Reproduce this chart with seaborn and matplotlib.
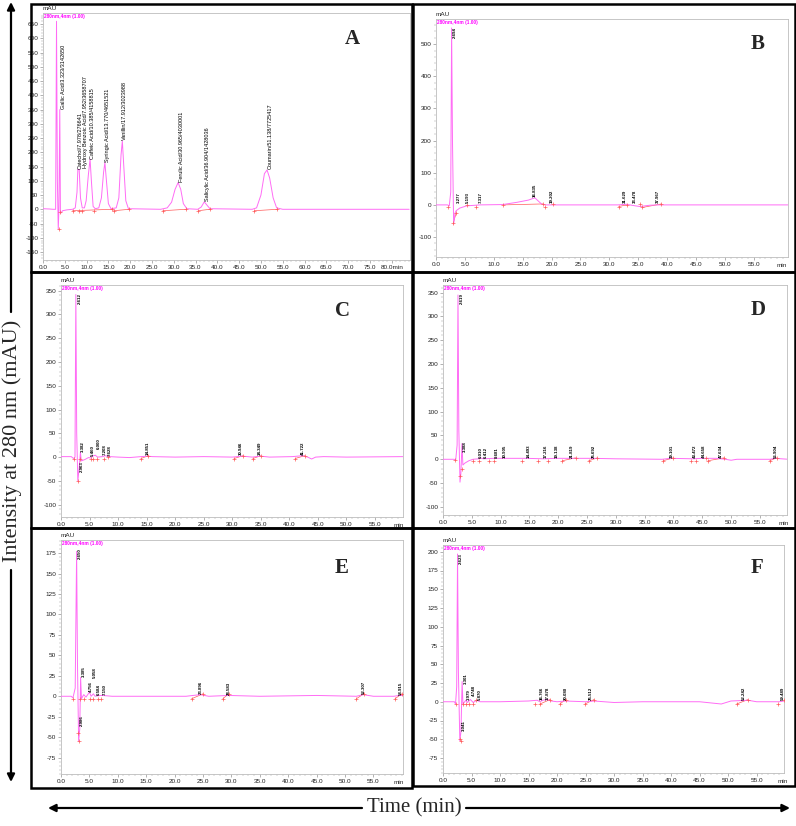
import matplotlib
matplotlib.use("Agg")
import matplotlib.pyplot as plt
from matplotlib.patches import Rectangle, FancyArrowPatch
from matplotlib.ticker import MultipleLocator
import seaborn as sns

W, H = 796, 826

# ---------------- panel A (standards) ----------------
a_t = [0, 1.5, 2.3, 2.9, 3.1, 3.3, 3.5, 3.65, 3.85, 4.0, 4.5, 5.5, 6.8, 7.4, 7.8, 8.0, 8.3, 8.6, 9.0,
       9.5, 9.9, 10.4, 10.8, 11.1, 11.5, 12.0, 12.8, 13.4, 13.9, 14.2, 14.5, 15.0, 15.6, 16.8, 17.4,
       17.9, 18.2, 18.5, 19.0, 19.6, 27.0, 28.5, 29.5, 30.3, 31.0, 31.6, 32.2, 33.0, 35.5, 36.3,
       37.0, 37.6, 38.3, 48.0, 49.0, 50.0, 50.8, 51.4, 52.0, 52.8, 53.6, 55.0, 84.0]
a_y = [2, 1, 0, 0, 660, 100, -70, 0, 350, -15, -5, -2, 0, 5, 60, 140, 140, 40, 5,
       5, 30, 120, 176, 100, 10, 2, 5, 40, 130, 164, 110, 20, 2, 5, 40,
       190, 240, 160, 30, 2, 0, 5, 25, 70, 94, 70, 20, 2, 0, 8,
       26, 15, 2, 0, 5, 50, 125, 138, 110, 40, 5, 0, 0]
a_mk_t = [3.7, 3.85, 6.8, 8.2, 8.9, 11.6, 15.9, 16.2, 19.8, 27.5, 32.8, 35.6, 38.3, 48.5, 53.8]
a_mk_y = [-70, -10, -5, -5, -5, -5, 0, -5, 0, -5, 0, -5, 0, -5, 0]
a_bl = [(6.8, -5, 15.9, 0), (16.2, -5, 19.8, 0), (27.5, -5, 32.8, 0), (35.6, -5, 38.3, 0), (48.5, -5, 53.8, 0)]
a_lab_t = [4.6, 8.6, 9.8, 11.4, 14.7, 18.8, 31.8, 37.8, 52.1]
a_lab_y = [352, 142, 145, 178, 166, 242, 96, 28, 140]
a_lab = ["Gallic Acid/3.323/3142650", "Catechol/7.978/276641", "Hydroxy Benzoic Acid/7.952/3658707",
         "Caffeic Acid/10.385/4158815", "Syringic Acid/13.770/4651521", "Vanillin/17.912/3023988",
         "Ferulic Acid/30.965/4030001", "Salicylic Acid/36.904/1428036", "Coumarin/51.138/7725417"]

# ---------------- panel B ----------------
b_t = [0, 2.0, 2.3, 2.55, 2.7, 2.85, 3.05, 3.3, 3.5, 4.1, 5.3, 7.6, 11.5, 14.0, 16.0, 17.1, 18.3,
       19.0, 31.5, 32.9, 34.5, 35.3, 37.0, 38.5, 61]
b_y = [0, 0, -3, 40, 550, 200, -60, -25, -18, -10, -3, 0, 1, 8, 15, 22, 2,
       0, 0, 2, -3, -5, -1, 0, 0]
b_mk_t = [2.1, 3.0, 3.5, 5.3, 7.0, 11.6, 18.5, 18.8, 20.3, 31.6, 33.0, 35.3, 35.7, 39.0]
b_mk_y = [-5, -55, -25, 0, -5, 0, 3, -5, 3, -5, 0, 3, -8, 3]
b_bl = [(3.0, -55, 3.5, -25), (11.6, 0, 18.5, 3), (31.6, -5, 33.0, 0), (35.7, -8, 39.0, 3)]
b_lab_t = [3.3, 3.9, 5.6, 7.7, 17.1, 20.0, 32.6, 34.4, 38.4]
b_lab_y = [578, 5, 5, 5, 26, 5, 5, 5, 5]
b_lab = ["2.694", "3.277", "5.193", "7.317", "16.835", "19.202", "31.629", "33.478", "37.967"]

# ---------------- panel C ----------------
c_t = [0, 1.8, 2.2, 2.45, 2.6, 2.75, 2.95, 3.2, 3.4, 3.55, 4.2, 4.8, 5.3, 5.5, 6.0, 6.4, 7.3, 7.7,
       8.5, 10, 12, 14, 15.2, 16, 20, 25, 30, 31.8, 33.5, 35, 36.5, 40.5, 42.3, 43.2, 43.9, 44.6, 46, 50, 60]
c_y = [1, 1, -3, 0, 342, 50, -50, -20, 10, -8, -5, -1, -2, 2, 4, 0, 1, 3,
       1, 0, -1, 1, 2, 1, 0, 1, 0, 2, 0, 2, 0, 1, 3, 0, -4, 0, 1, 0, 1]
c_mk_t = [2.2, 3.0, 3.3, 5.3, 5.6, 6.3, 7.5, 8.2, 14.0, 15.3, 30.3, 31.9, 33.6, 35.0, 41.0, 42.7]
c_mk_y = [-3, -50, -5, -5, -3, -3, -3, 0, -3, 3, -3, 3, -3, 3, -3, 3]
c_bl = [(14.0, -3, 15.3, 3), (30.3, -3, 31.9, 3), (33.6, -3, 35.0, 3), (41.0, -3, 42.7, 3)]
c_lab_t = [3.3, 3.6, 3.85, 5.5, 6.6, 7.75, 8.6, 15.2, 31.5, 34.9, 42.3]
c_lab_y = [362, -8, 11, 2, 18, 4, 3, 4, 4, 4, 5]
c_lab = ["2.612", "2.963", "3.382", "5.460", "6.000", "7.208", "7.628", "14.851", "30.946", "34.349", "41.722"]

# ---------------- panel D ----------------
d_t = [0, 1.9, 2.2, 2.45, 2.6, 2.75, 2.95, 3.1, 3.3, 3.45, 3.8, 4.5, 5.2, 6.2, 6.4, 7.0, 8.8, 10.5,
       14.5, 17.5, 19.5, 22, 26, 30, 38, 39.5, 43.5, 44.8, 47.5, 49, 50, 51, 56.8, 57.5, 60]
d_y = [0, 0, -2, 30, 345, 60, -48, -30, 33, -12, -8, -3, 0, 1, 3, 1, 2, 2,
       2, 1, 2, 2, 2, 1, 0, 2, 1, 2, 2, 0, -2, 0, 0, 2, 0]
d_mk_t = [2.1, 3.0, 3.3, 5.2, 6.2, 8.0, 8.9, 13.7, 16.5, 18.2, 20.7, 23.0, 25.3, 26.8, 38.2, 40.0,
          43.0, 43.9, 45.7, 46.0, 48.8, 56.7, 57.9]
d_mk_y = [-2, -35, -20, -3, -3, -3, -3, -3, -3, -3, -3, 3, -3, 3, -3, 3,
          -3, -3, 3, -3, 3, -3, 3]
d_bl = [(20.7, -3, 23.0, 3), (25.3, -3, 26.8, 3), (38.2, -3, 40.0, 3), (46.0, -3, 48.8, 3), (56.7, -3, 57.9, 3)]
d_lab_t = [3.2, 3.75, 6.5, 7.5, 9.3, 10.7, 14.9, 17.8, 19.7, 22.4, 26.1, 39.8, 43.7, 45.2, 48.2, 57.7]
d_lab_y = [366, 16, 2, 2, 2, 2, 3, 2, 2, 3, 3, 3, 2, 2, 3, 2]
d_lab = ["2.619", "3.388", "6.010", "6.412", "8.681", "10.905", "14.493", "17.216", "19.138",
         "21.819", "25.692", "39.101", "43.472", "44.658", "47.634", "56.904"]

# ---------------- panel E ----------------
e_t = [0, 1.8, 2.1, 2.5, 2.75, 2.9, 3.1, 3.3, 3.45, 3.6, 4.0, 4.4, 5.0, 5.3, 5.7, 6.0, 6.8, 7.3, 9,
       15, 22, 24.5, 26, 29.5, 35, 45, 52, 53.2, 55, 58.6, 59.5, 60.2]
e_y = [0, 0, -2, 10, 177, 40, -55, -40, 23, -3, 2, -1, 5, 0, 3, 0, 1, 1, 0,
       0, 0, 2, 0, 1, 0, 1, 0, 2, 0, 0, 1, 1]
e_mk_t = [2.1, 3.0, 3.2, 3.4, 4.1, 5.1, 5.6, 6.6, 7.0, 23.0, 25.0, 28.5, 29.5, 52.0, 53.3, 58.8, 60.0]
e_mk_y = [-3, -45, -55, -3, -3, -3, -3, -3, -3, -3, 3, -3, 3, -3, 3, -3, 3]
e_bl = [(23.0, -3, 25.0, 3), (28.5, -3, 29.5, 3), (52.0, -3, 53.3, 3), (58.8, -3, 60.0, 3)]
e_lab_t = [3.3, 3.7, 4.0, 5.3, 5.9, 6.7, 7.8, 24.7, 29.5, 53.3, 59.9]
e_lab_y = [191, -23, 24, 5, 22, 1, 1, 3, 2, 3, 2]
e_lab = ["2.650", "2.986", "3.385", "4.756", "5.058", "6.584", "7.150", "23.896", "28.583", "52.307", "58.915"]

# ---------------- panel F ----------------
f_t = [0, 2.0, 2.2, 2.4, 2.55, 2.7, 2.95, 3.15, 3.35, 3.5, 4.0, 4.3, 4.8, 5.3, 5.9, 6.5, 10, 15,
       16.5, 17.0, 17.5, 18.2, 19.0, 20.0, 21.5, 25, 26.5, 30, 35, 45, 48.8, 50.5, 53.5, 55, 59, 59.8]
f_y = [0, 0, -3, 20, 197, 40, -52, -40, 27, -3, 2, -1, 3, -1, 2, 0, 0, 1,
       2, 0, 2, 3, 1, 0, 1, 0, 1, -1, 0, 0, -3, 1, 2, 0, 0, 1]
f_mk_t = [2.2, 2.9, 3.1, 3.5, 4.0, 4.5, 5.3, 5.8, 16.2, 17.0, 18.8, 20.5, 21.5, 24.9, 26.5, 51.5, 53.5, 58.8, 59.8]
f_mk_y = [-3, -50, -52, -3, -3, -3, -3, 3, -3, -3, 3, -3, 3, -3, 3, -3, 3, -3, 3]
f_bl = [(17.0, -3, 18.8, 3), (20.5, -3, 21.5, 3), (24.9, -3, 26.5, 3), (51.5, -3, 53.5, 3)]
f_lab_t = [3.2, 3.6, 3.95, 4.6, 5.4, 6.4, 17.25, 18.3, 21.5, 26.0, 52.7, 59.6]
f_lab_y = [209, -24, 24, 3, 7, 3, 3, 3, 2, 2, 3, 2]
f_lab = ["2.623", "3.041", "3.301", "3.979", "4.748", "5.870", "16.766", "17.878", "20.080",
         "25.512", "52.242", "59.489"]

TRACE = "#ff6cf5"
BASE = "#ff5a5a"

sns.set_style("white")
plt.rcParams["font.family"] = ["Liberation Sans", "DejaVu Sans"]

fig = plt.figure(figsize=(W / 100, H / 100), dpi=100)


def frac(x0, y0, x1, y1):
    return [x0 / W, 1 - y1 / H, (x1 - x0) / W, (y1 - y0) / H]


def box(x0, y0, x1, y1):
    fig.add_artist(Rectangle((x0 / W, 1 - y1 / H), (x1 - x0) / W, (y1 - y0) / H,
                             transform=fig.transFigure, fill=False, lw=1.8, ec="black"))


def panel(rect, t, y, mk_t, mk_y, bl, lab_t, lab_y, lab, xlim, ylim, ystep, letter, letter_pos,
          xlast="min", bold=True, labsize=3.2, min_x=None):
    ax = fig.add_axes(frac(*rect))
    # integration baselines under the peaks
    for x0, y0, x1, y1 in bl:
        ax.plot([x0, x1], [y0, y1], color=BASE, lw=0.5, zorder=2)
    sns.lineplot(x=t, y=y, ax=ax, color=TRACE, lw=0.7, estimator=None, sort=False, zorder=3)
    ax.scatter(mk_t, mk_y, marker="+", s=9, color=BASE, linewidths=0.5, zorder=4)
    span = ylim[1] - ylim[0]
    for xt, yt, s in zip(lab_t, lab_y, lab):
        va = "bottom"
        if yt >= ylim[1] - 1:
            va = "top"
            yt = ylim[1] - 0.035 * span
        elif yt < 0:
            va = "top"
        ax.text(xt, yt, s, rotation=90, ha="center", va=va, fontsize=labsize,
                fontweight="bold" if bold else "normal", color="black", zorder=5)
    ax.set_xlim(*xlim)
    ax.set_ylim(*ylim)
    xt_major = list(range(0, int(xlim[1]) + 1, 5))
    if xlast == "80.0min":
        xt_major = [v for v in xt_major if v <= 80]
        xlabels = ["%.1f" % v for v in xt_major]
        xlabels[-1] = "80.0min"
    else:
        xt_major = [v for v in xt_major if v <= 55]
        xlabels = ["%.1f" % v for v in xt_major]
    ax.set_xticks(xt_major, labels=xlabels)
    ax.xaxis.set_minor_locator(MultipleLocator(1))
    yt_major = [v for v in range(-500, 1000, ystep) if ylim[0] <= v <= ylim[1]]
    ax.set_yticks(yt_major, labels=["%d" % v for v in yt_major])
    ax.yaxis.set_minor_locator(MultipleLocator(ystep / 5))
    ax.tick_params(which="major", direction="out", length=2.2, width=0.4, color="#777777",
                   labelsize=4.6, pad=1.2, labelcolor="#222222")
    ax.tick_params(which="minor", direction="out", length=1.2, width=0.3, color="#999999")
    ax.tick_params(axis="x", which="both", bottom=True)
    ax.tick_params(axis="y", which="both", left=True)
    for sp in ax.spines.values():
        sp.set_color("#bdbdbd")
        sp.set_linewidth(0.6)
    ax.set_xlabel("")
    ax.set_ylabel("")
    if min_x is not None:
        ax.text(min_x, -0.025, "min", transform=ax.get_xaxis_transform(), ha="center", va="top",
                fontsize=4.6, color="#222222")
    ax.text(0.0, 1.008, "mAU", transform=ax.transAxes, ha="left", va="bottom", fontsize=4.6,
            color="#222222")
    ax.text(0.004, 0.996, "280nm,4nm (1.00)", transform=ax.transAxes, ha="left", va="top",
            fontsize=3.4, color="#ff00ff", fontweight="bold")
    fig.text(letter_pos[0] / W, 1 - letter_pos[1] / H, letter, ha="center", va="center",
             fontsize=15, fontweight="bold", family="Liberation Serif")
    return ax


# boxes
box(31, 4, 412, 272)
box(413, 4, 795, 272)
box(31, 272, 412, 528)
box(413, 272, 795, 528)
box(31, 528, 412, 788)
box(413, 528, 795, 786)

panel((43, 13, 410, 260), a_t, a_y, a_mk_t, a_mk_y, a_bl, a_lab_t, a_lab_y, a_lab, (0, 84.2), (-178, 689), 50,
      "A", (352, 39), xlast="80.0min", bold=False, labsize=4.0)
panel((436, 19, 788, 257), b_t, b_y, b_mk_t, b_mk_y, b_bl, b_lab_t, b_lab_y, b_lab, (0, 60.9), (-162, 578), 100,
      "B", (758, 44), min_x=59.8)
panel((61, 285, 403, 517), c_t, c_y, c_mk_t, c_mk_y, c_bl, c_lab_t, c_lab_y, c_lab, (0, 59.9), (-126, 362), 50,
      "C", (342, 311), min_x=59.2)
panel((443, 285, 787, 515), d_t, d_y, d_mk_t, d_mk_y, d_bl, d_lab_t, d_lab_y, d_lab, (0, 59.7), (-117, 366), 50,
      "D", (758, 310), min_x=59.1)
panel((61, 540, 403, 774), e_t, e_y, e_mk_t, e_mk_y, e_bl, e_lab_t, e_lab_y, e_lab, (0, 60.2), (-95, 191), 25,
      "E", (342, 568), min_x=59.4)
panel((443, 545, 784, 773), f_t, f_y, f_mk_t, f_mk_y, f_bl, f_lab_t, f_lab_y, f_lab, (0, 59.8), (-95, 209), 25,
      "F", (757, 568), min_x=59.6)


def arrow(x0, y0, x1, y1):
    fig.add_artist(FancyArrowPatch((x0 / W, 1 - y0 / H), (x1 / W, 1 - y1 / H), transform=fig.transFigure,
                                   arrowstyle="-|>", mutation_scale=11, lw=1.6, color="black",
                                   shrinkA=0, shrinkB=0))


# outer axis arrows and titles
arrow(11, 312, 11, 2)
arrow(11, 570, 11, 782)
fig.text(12.5 / W, 1 - 441 / H, "Intensity at 280 nm (mAU)", rotation=90, ha="center", va="center",
         fontsize=16, family="Liberation Serif")
arrow(362, 808, 48, 808)
arrow(466, 808, 790, 808)
fig.text(414 / W, 1 - 808 / H, "Time (min)", ha="center", va="center", fontsize=15,
         family="Liberation Serif")

fig.savefig("out.png", dpi=100)
